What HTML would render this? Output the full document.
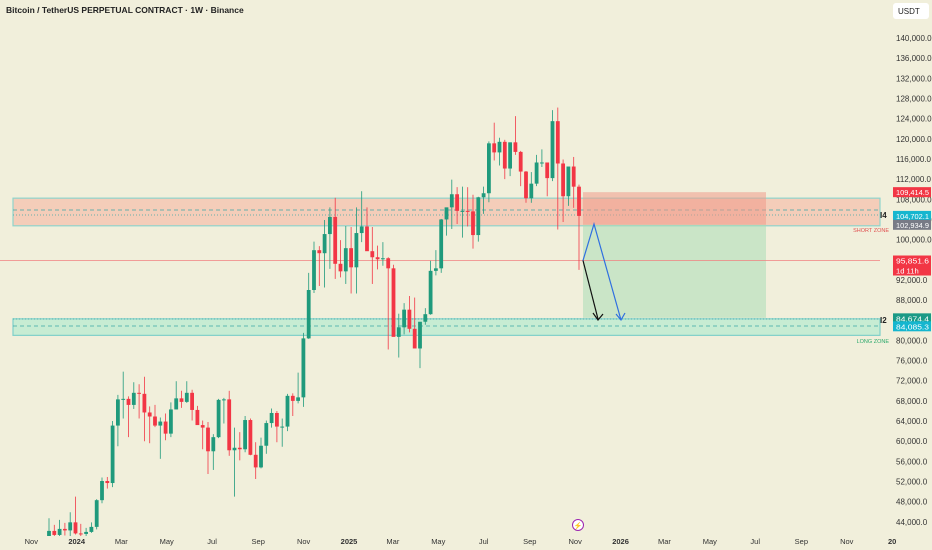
<!DOCTYPE html>
<html><head><meta charset="utf-8"><style>
html,body{margin:0;padding:0;background:#f1efdb;}
svg{display:block;font-family:"Liberation Sans",sans-serif;}
</style></head><body>
<svg id="chart" width="932" height="550" viewBox="0 0 932 550" xmlns="http://www.w3.org/2000/svg">
<rect x="0" y="0" width="932" height="550" fill="#f1efdb"/>
<text x="6" y="13" font-size="8.5" font-weight="bold" fill="#222">Bitcoin / TetherUS PERPETUAL CONTRACT · 1W · Binance</text>
<g>
<rect x="893" y="3" width="36" height="16" rx="3" fill="#fff"/>
<text x="898" y="14" font-size="8" fill="#222">USDT</text>
</g>
<g id="zones"></g>
<g id="candles"></g>
<g id="overlay"></g>
<g id="yaxis"></g>
<g id="xaxis"></g>
</svg>
<script>
// Weekly candles starting week of 2023-12-04 (values in thousands USDT)
const opens  = [39.9,42.2,41.4,42.6,42.3,43.9,41.7,41.6,42.0,43.0,48.3,52.1,51.7,63.1,68.3,68.4,67.2,69.6,69.4,65.7,64.9,63.1,63.9,61.5,66.3,68.5,67.8,69.6,66.2,63.2,62.7,58.0,60.8,68.2,68.3,58.2,58.7,58.4,64.2,57.3,54.8,59.1,63.6,65.6,62.9,62.9,69.0,68.0,68.7,80.4,90.0,97.9,97.3,101.1,104.5,95.2,93.7,98.3,94.5,101.3,102.6,97.7,96.5,96.1,96.3,94.3,80.7,82.6,86.1,82.3,78.4,83.7,85.2,93.8,94.3,104.0,106.4,109.0,105.7,105.7,105.6,100.9,108.4,109.2,119.1,117.3,119.4,114.1,119.3,117.4,113.5,108.2,111.1,115.3,115.3,112.2,123.5,115.1,108.6,114.5,110.5];
const highs  = [44.7,43.4,44.4,43.8,45.9,49.0,43.6,42.8,43.9,48.5,52.8,52.9,64.0,69.2,73.8,68.9,71.7,71.3,72.8,66.9,67.2,64.7,65.5,67.7,71.9,70.0,71.9,70.2,67.0,64.1,63.8,61.4,68.4,68.6,70.0,62.7,61.8,65.0,64.5,59.8,60.7,64.1,66.5,66.0,64.5,69.4,69.5,73.6,81.5,93.4,99.6,98.7,103.9,106.4,108.3,99.9,102.7,102.5,106.4,109.6,106.4,102.5,98.8,99.5,96.5,95.0,85.3,87.4,88.8,88.5,83.6,86.4,95.8,97.9,104.1,105.8,111.9,110.4,110.5,110.4,108.9,108.5,110.5,119.5,123.2,120.2,119.8,119.3,124.5,117.6,113.6,113.4,116.8,117.9,115.3,125.7,126.2,115.9,114.0,116.4,110.9];
const lows   = [39.6,40.2,40.5,41.3,40.7,41.5,40.3,38.5,41.8,42.5,47.7,50.6,50.9,59.0,64.5,60.8,66.4,64.5,60.0,59.6,62.8,56.5,60.2,60.8,66.3,66.6,67.6,64.1,63.4,58.4,53.5,54.3,60.6,63.5,57.1,49.0,56.2,57.8,57.2,52.5,54.6,57.5,62.7,59.8,58.9,62.0,65.0,67.5,66.8,80.3,89.4,90.8,90.5,94.2,92.2,92.5,91.2,89.3,89.3,99.5,97.8,91.2,94.1,94.8,78.2,81.5,76.6,81.2,81.6,81.2,74.5,83.1,85.1,92.9,93.4,100.8,102.1,103.1,100.4,102.6,98.2,99.6,105.1,107.4,115.7,114.7,112.0,112.6,116.8,110.6,107.3,107.3,110.6,114.4,108.6,111.6,102.0,103.5,106.7,106.3,94.0];
const closes = [42.2,41.4,42.6,42.3,43.9,41.7,41.6,42.0,43.0,48.3,52.1,51.7,63.1,68.3,68.4,67.2,69.6,69.4,65.7,64.9,63.1,63.9,61.5,66.3,68.5,67.8,69.6,66.2,63.2,62.7,58.0,60.8,68.2,68.3,58.2,58.7,58.4,64.2,57.3,54.8,59.1,63.6,65.6,62.9,62.9,69.0,68.0,68.7,80.4,90.0,97.9,97.3,101.1,104.5,95.2,93.7,98.3,94.5,101.3,102.6,97.7,96.5,96.1,96.3,94.3,80.7,82.6,86.1,82.3,78.4,83.7,85.2,93.8,94.3,104.0,106.4,109.0,105.7,105.7,105.6,100.9,108.4,109.2,119.1,117.3,119.4,114.1,119.3,117.4,113.5,108.2,111.1,115.3,115.3,112.2,123.5,115.1,108.6,114.5,110.5,104.7,95.85];
const yTicks = [44,48,52,56,60,64,68,72,76,80,84,88,92,96,100,104,108,112,116,120,124,128,132,136,140];
const xTickLabels = ["Nov","2024","Mar","May","Jul","Sep","Nov","2025","Mar","May","Jul","Sep","Nov","2026","Mar","May","Jul","Sep","Nov","20"];
const xTickDates = ["2023-11-01","2024-01-01","2024-03-01","2024-05-01","2024-07-01","2024-09-01","2024-11-01","2025-01-01","2025-03-01","2025-05-01","2025-07-01","2025-09-01","2025-11-01","2026-01-01","2026-03-01","2026-05-01","2026-07-01","2026-09-01","2026-11-01","2027-01-01"];
const shortZone = [109.414,102.935];
const longZone = [84.674,81.0];
const lastPrice = 95.8516;

const NS="http://www.w3.org/2000/svg";
const PLOT_BOTTOM=536, PLOT_RIGHT=880;
const y = p => 38 + (140 - p) * 5.04;
const x = i => 49 + i * 5.3;
const ref2025 = new Date("2025-01-01").getTime();
const xLabel = d => 349 + (new Date(d).getTime() - ref2025) / 86400000 * 0.744;
function mk(tag, parent, attrs){const e=document.createElementNS(NS,tag);for(const k in attrs)e.setAttribute(k,attrs[k]);parent.appendChild(e);return e;}
const clipY = v => Math.min(v, PLOT_BOTTOM);

const zones=document.getElementById('zones');
let r=mk('rect',zones,{x:13,y:y(shortZone[0])+6,width:PLOT_RIGHT-13,height:y(shortZone[1])-y(shortZone[0])-5,fill:'#f7b7a3',opacity:0.6,stroke:'#4fc3c3','stroke-width':1.2});


r=mk('rect',zones,{x:13,y:y(longZone[0])+2,width:PLOT_RIGHT-13,height:y(longZone[1])-y(longZone[0])-2,fill:'#b6ecd0',opacity:0.7,stroke:'#4fc3c3','stroke-width':1.2});


[[210,'4 3'],[215,'1 2'],[319,'1 2'],[326,'4 3']].forEach(([yy,d])=>{
  const l=mk('line',zones,{x1:13,x2:PLOT_RIGHT,y1:yy,y2:yy,stroke:'#3aa7a7','stroke-width':0.8,'stroke-dasharray':d});
  
  
});
r=mk('rect',zones,{x:583,y:y(shortZone[0]),width:183,height:y(shortZone[1])-y(shortZone[0]),fill:'#f19a8a',opacity:0.55});


r=mk('rect',zones,{x:583,y:y(shortZone[1]),width:183,height:y(longZone[0])-y(shortZone[1])+1,fill:'#a9dcb6',opacity:0.55});


let pl=mk('line',zones,{x1:0,x2:PLOT_RIGHT,y1:y(lastPrice),y2:y(lastPrice),stroke:'#f08080','stroke-width':0.8});



const cg=document.getElementById('candles');
for(let i=0;i<closes.length;i++){
  const up=closes[i]>=opens[i], col=up?'#1f9a7c':'#f23645', cx=x(i);
  const w=mk('line',cg,{x1:cx,x2:cx,y1:clipY(y(highs[i])),y2:clipY(y(lows[i])),stroke:col,'stroke-width':0.8});
  
  
  const top=clipY(y(Math.max(opens[i],closes[i]))), bot=clipY(y(Math.min(opens[i],closes[i])));
  const b=mk('rect',cg,{x:cx-1.9,y:top,width:3.8,height:Math.max(1,bot-top),fill:col});
  
  
}

const ov=document.getElementById('overlay');
let a=mk('polyline',ov,{points:`583,${y(lastPrice)} 598,319`,fill:'none',stroke:'#111','stroke-width':1.2});


a=mk('polyline',ov,{points:'593,313 598,320 603,314',fill:'none',stroke:'#111','stroke-width':1.2});


a=mk('polyline',ov,{points:`583,${y(lastPrice)} 594,224 621,320`,fill:'none',stroke:'#2f6fe0','stroke-width':1.2});


a=mk('polyline',ov,{points:'616,314 621,320 625,313',fill:'none',stroke:'#2f6fe0','stroke-width':1.2});


function txt(parent,s,attrs,name){const t=mk('text',parent,attrs);t.textContent=s;return t;}
txt(ov,'I4',{x:880,y:218,'font-size':8,'font-weight':'bold',fill:'#222'},'level-label-i4');
txt(ov,'I2',{x:880,y:323,'font-size':8,'font-weight':'bold',fill:'#222'},'level-label-i2');
txt(ov,'SHORT ZONE',{x:889,y:232,'font-size':5.5,'text-anchor':'end',fill:'#e05050'},'short-zone-label');
txt(ov,'LONG ZONE',{x:889,y:343,'font-size':5.5,'text-anchor':'end',fill:'#2aa86a'},'long-zone-label');

const ya=document.getElementById('yaxis');
yTicks.forEach(v=>{
  txt(ya,(v*1000).toLocaleString('en-US')+'.0',{x:896,y:y(v)+3,'font-size':8,fill:'#333'},'y-tick-label');
});
function tag(val,bg,label,extra,shift){
  const yy=y(val)+(shift||0);
  const h=extra?20:10;
  const g=mk('rect',ya,{x:893,y:yy-5,width:38,height:h,fill:bg});
  
  
  txt(ya,label,{x:896,y:yy+3,'font-size':7.6,fill:'#fff','textLength':33,'lengthAdjust':'spacingAndGlyphs'},'price-tag-label');
  if(extra) txt(ya,extra,{x:896,y:yy+13,'font-size':7.6,fill:'#fff'},'countdown-label');
}
tag(109.4145,'#f23645','109,414.5');
tag(104.7021,'#15b6cf','104,702.1');
tag(102.9349,'#787b86','102,934.9');
tag(lastPrice,'#f23645','95,851.6','1d 11h');
tag(84.6744,'#1a9a86','84,674.4','',1.5);
tag(84.0853,'#15b6cf','84,085.3','',6.5);

const xa=document.getElementById('xaxis');
xTickLabels.forEach((s,i)=>{
  const bold=/^\d/.test(s);
  txt(xa,s,{x:xLabel(xTickDates[i]),y:544,'font-size':7.5,'text-anchor':'middle',fill:'#333','font-weight':bold?'bold':'normal'},'x-tick-label');
});
const ic=mk('circle',xa,{cx:578,cy:525,r:5.5,fill:'#fff',stroke:'#9c27b0','stroke-width':1});


txt(xa,'⚡',{x:578,y:528,'font-size':7,'text-anchor':'middle',fill:'#9c27b0'},'events-icon-glyph');
</script>
</body></html>
